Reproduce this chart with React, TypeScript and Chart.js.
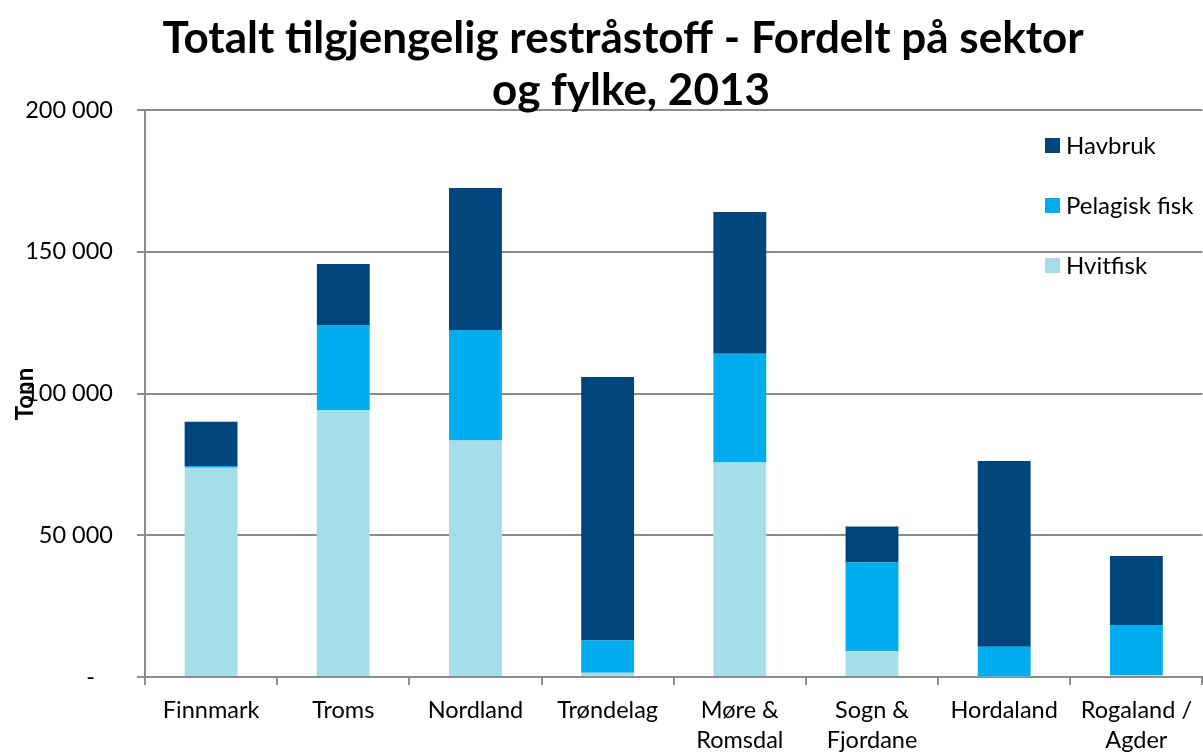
import React, { useEffect, useRef } from "react";
import { Chart, registerables } from "chart.js";

Chart.register(...registerables);

const categories: (string | string[])[] = [
  "Finnmark",
  "Troms",
  "Nordland",
  "Trøndelag",
  ["Møre &", "Romsdal"],
  ["Sogn &", "Fjordane"],
  "Hordaland",
  ["Rogaland /", "Agder"],
];

const hvitfisk = [73800, 94200, 83400, 1500, 75700, 9100, 300, 600];
const pelagiskFisk = [600, 30000, 39000, 11400, 38300, 31300, 10400, 17700];
const havbruk = [15600, 21500, 50100, 92900, 50000, 12700, 65500, 24400];

const seriesNames = ["Hvitfisk", "Pelagisk fisk", "Havbruk"];
const seriesColors = ["#A5DEE8", "#00AEEF", "#00457C"];

const titleLines = ["Totalt tilgjengelig restråstoff - Fordelt på sektor", "og fylke, 2013"];
const yAxisTitle = "Tonn";
const yTicks = [0, 50000, 100000, 150000, 200000];

const FONT = "Lato, 'Open Sans', sans-serif";

function fmt(v: number): string {
  if (v === 0) return "-   ";
  return String(v).replace(/\B(?=(\d{3})+(?!\d))/g, " ");
}

const decorPlugin = {
  id: "decor",
  afterDraw(chart: any) {
    const ctx = chart.ctx as CanvasRenderingContext2D;
    ctx.save();
    // Title
    ctx.fillStyle = "#000";
    ctx.textAlign = "center";
    ctx.textBaseline = "alphabetic";
    ctx.font = `bold 44px ${FONT}`;
    ctx.fillText(titleLines[0], 623, 53);
    ctx.fillText(titleLines[1], 631, 105);
    // Y axis title
    ctx.save();
    ctx.translate(25, 394);
    ctx.rotate(-Math.PI / 2);
    ctx.font = `bold 24px ${FONT}`;
    ctx.textAlign = "center";
    ctx.textBaseline = "middle";
    ctx.fillText(yAxisTitle, 0, 0);
    ctx.restore();
    // Legend (reverse order)
    const ds = chart.data.datasets;
    ctx.font = `24px ${FONT}`;
    ctx.textAlign = "left";
    ctx.textBaseline = "middle";
    for (let i = ds.length - 1, k = 0; i >= 0; i--, k++) {
      const y = 145 + k * 60;
      ctx.fillStyle = ds[i].backgroundColor;
      ctx.fillRect(1045, y - 7, 15, 15);
      ctx.fillStyle = "#000";
      ctx.fillText(ds[i].label, 1066, y + 1);
    }
    ctx.restore();
  },
};

export default function App() {
  const ref = useRef<HTMLCanvasElement>(null);
  useEffect(() => {
    if (!ref.current) return;
    const datasetsData = [hvitfisk, pelagiskFisk, havbruk];
    const chart = new Chart(ref.current, {
      type: "bar",
      data: {
        labels: categories,
        datasets: datasetsData.map((d, i) => ({
          label: seriesNames[i],
          data: d,
          backgroundColor: seriesColors[i],
          borderWidth: 0,
          categoryPercentage: 1,
          barPercentage: 0.4,
        })),
      },
      options: {
        animation: false,
        responsive: false,
        maintainAspectRatio: false,
        layout: { padding: { top: 110, right: 0, left: 0, bottom: 0 } },
        plugins: {
          legend: { display: false },
          title: { display: false },
          tooltip: { enabled: false },
        },
        scales: {
          x: {
            stacked: true,
            grid: {
              display: true,
              drawOnChartArea: false,
              drawTicks: true,
              tickLength: 8,
              color: "#8c8c8c",
              lineWidth: 2,
              offset: true,
            },
            border: { display: true, color: "#8c8c8c", width: 2 },
            ticks: {
              color: "#000",
              font: { family: FONT, size: 23.5, lineHeight: 1.25 },
              padding: 11,
              maxRotation: 0,
              autoSkip: false,
            },
            afterFit: (s: any) => {
              s.height = 77;
            },
          },
          y: {
            stacked: true,
            min: 0,
            max: 200000,
            afterBuildTicks: (s: any) => {
              s.ticks = yTicks.map((v) => ({ value: v }));
            },
            grid: {
              color: "#8c8c8c",
              lineWidth: 2,
              tickLength: 8,
              drawTicks: true,
            },
            border: { display: true, color: "#8c8c8c", width: 2 },
            ticks: {
              color: "#000",
              font: { family: FONT, size: 23.5 },
              padding: 24,
              callback: (v: any) => fmt(Number(v)),
            },
            afterFit: (s: any) => {
              s.width = 145;
            },
          },
        },
      },
      plugins: [decorPlugin],
    });
    return () => chart.destroy();
  }, []);
  return (
    <div style={{ position: "fixed", left: 0, top: 0, width: 1203, height: 754, background: "#fff" }}>
      <canvas ref={ref} width={1203} height={754} style={{ width: 1203, height: 754 }} />
    </div>
  );
}
